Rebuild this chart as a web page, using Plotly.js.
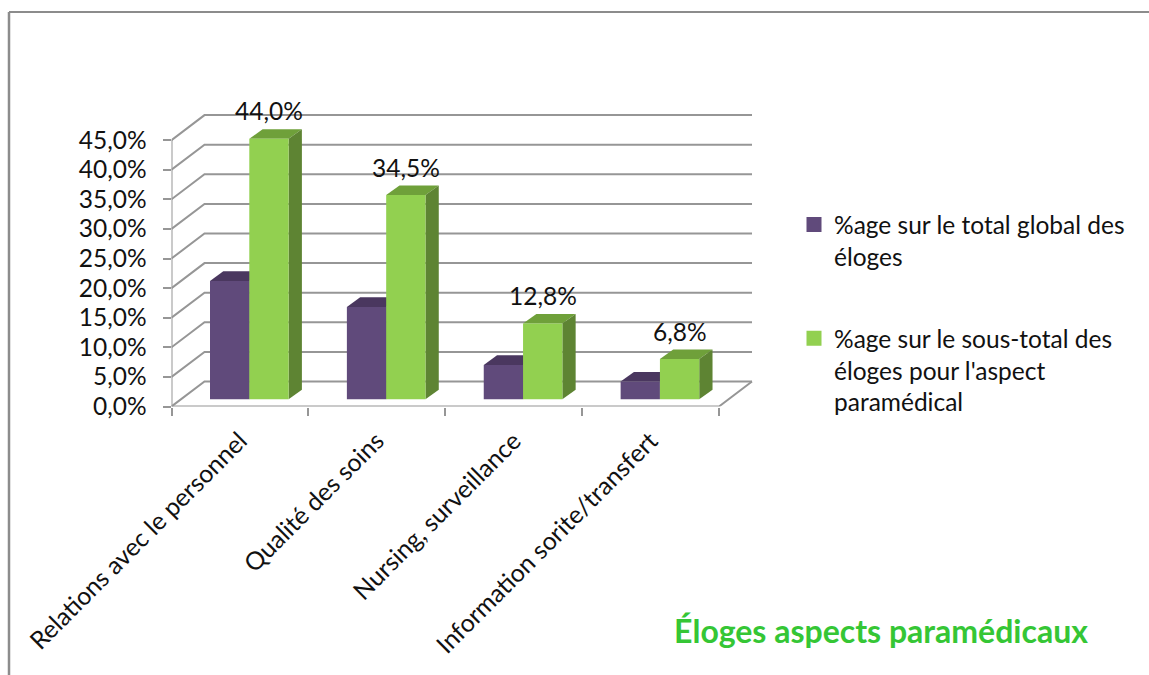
<!DOCTYPE html>
<html lang="fr">
<head>
<meta charset="utf-8">
<title>Éloges aspects paramédicaux</title>
<script src="https://cdn.plot.ly/plotly-3.0.1.min.js"></script>
<style>html,body{margin:0;padding:0;background:#fff}#chart{width:1149px;height:675px}</style>
</head>
<body>
<div id="chart"></div>
<script>
// Chart content
const categories = ['Relations avec le personnel', 'Qualité des soins', 'Nursing, surveillance', 'Information sorite/transfert'];
const shareOfTotal = [20.0, 15.6, 5.8, 3.0];
const shareOfSubtotal = [44.0, 34.5, 12.8, 6.8];
const seriesNames = ['%age sur le total global des<br>éloges', "%age sur le sous-total des<br>éloges pour l'aspect<br>paramédical"];
const yTicks = [0, 5, 10, 15, 20, 25, 30, 35, 40, 45];
const chartTitle = 'Éloges aspects paramédicaux';

// Page is 1149x675 with no margins, so plot domains are fractions of the page
const W = 1149, H = 675;
const FONT = 'Lato, Carlito, sans-serif';
const TEXT_SIZE = 24.5;
const pxPerCat = 136.875, pxPerPct = 5.92;
const plotLeft = 171.5, plotRight = 753, plotBottom = 406.5, plotTop = 100;

// Oblique projection of the chart's depth, in axis units
const wallDX = 33 / pxPerCat, wallDY = 25 / pxPerPct;
const barDX = 13.3 / pxPerCat, barDY = 9.6 / pxPerPct;
const barBase = 7.2 / pxPerPct;
const barWidth = 39.3 / pxPerCat;
const offsets = [38.5 / pxPerCat - 0.5, 77.8 / pxPerCat - 0.5];

const colors = {
  front: ['#604A7B', '#92D050'],
  top: ['#4A375F', '#6FA03A'],
  side: ['#4A375F', '#5E8433'],
  grid: '#969696',
  frame: '#8C8C8C',
  title: '#35C635',
  text: '#111111'
};

const pct = v => v.toFixed(1).replace('.', ',') + '%';
const xLeft = -0.5, xRight = categories.length - 0.5;
const poly = pts => 'M' + pts.map(p => p[0] + ',' + p[1]).join('L') + 'Z';
const line = (pts, color, width) => ({
  type: 'path', layer: 'below', xref: 'x', yref: 'y',
  path: 'M' + pts.map(p => p[0] + ',' + p[1]).join('L'),
  line: {color: color, width: width}
});
const face = (pts, color) => ({
  type: 'path', layer: 'below', xref: 'x', yref: 'y',
  path: poly(pts), fillcolor: color, line: {width: 0}
});

const shapes = [];

// Walls: each gridline runs from the front edge up to the back wall, then across
yTicks.forEach(t => {
  shapes.push(line([[xLeft, t], [xLeft + wallDX, t + wallDY], [xRight + wallDX, t + wallDY]], colors.grid, 2));
});
shapes.push(line([[xLeft, 0], [xLeft, yTicks[yTicks.length - 1]]], colors.grid, 2));
shapes.push(line([[xLeft, 0], [xRight, 0], [xRight + wallDX, wallDY]], colors.grid, 2));

// Top and side faces of each column; the front faces are the bar traces
[shareOfTotal, shareOfSubtotal].forEach((series, s) => {
  series.forEach((v, i) => {
    const x0 = i + offsets[s], x1 = x0 + barWidth, top = v + barBase;
    shapes.push(face([[x0, top], [x0 + barDX, top + barDY], [x1 + barDX, top + barDY], [x1, top]], colors.top[s]));
    shapes.push(face([[x1, barBase], [x1 + barDX, barBase + barDY], [x1 + barDX, top + barDY], [x1, top]], colors.side[s]));
  });
});

// Frame of the surrounding chart area, open towards the right and bottom
shapes.push({type: 'line', xref: 'paper', yref: 'paper', x0: 9 / W, x1: 1, y0: 1 - 12 / H, y1: 1 - 12 / H, line: {color: colors.frame, width: 2}});
shapes.push({type: 'line', xref: 'paper', yref: 'paper', x0: 9 / W, x1: 9 / W, y0: 0, y1: 1 - 12 / H, line: {color: colors.frame, width: 2.5}});

const barTrace = (values, s) => ({
  type: 'bar', x: categories, y: values, base: barBase,
  offset: offsets[s], width: barWidth,
  marker: {color: colors.front[s]},
  showlegend: false, hoverinfo: 'skip'
});

// Legend-only entries, stroked so the swatches come out a little larger
const legendTrace = s => ({
  type: 'bar', x: [null], y: [null], name: seriesNames[s],
  legendgroup: 'g' + s,
  marker: {color: colors.front[s], line: {color: colors.front[s], width: 3}}
});

// Value labels float above the green columns
const annotations = shareOfSubtotal.map((v, i) => ({
  xref: 'x', yref: 'y',
  x: i + offsets[1] + barWidth / 2,
  y: v + barBase + 28 / pxPerPct,
  text: pct(v), showarrow: false,
  xanchor: 'center', yanchor: 'middle',
  font: {family: FONT, size: TEXT_SIZE, color: colors.text}
}));

const layout = {
  width: W, height: H,
  margin: {l: 0, r: 0, t: 0, b: 0},
  paper_bgcolor: '#ffffff', plot_bgcolor: 'rgba(0,0,0,0)',
  barmode: 'overlay',
  font: {family: FONT, color: colors.text, size: TEXT_SIZE},
  title: {
    text: '<b>' + chartTitle + '</b>',
    x: 881 / W, xanchor: 'center', xref: 'paper',
    y: 1 - 632 / H, yanchor: 'middle', yref: 'container',
    font: {family: FONT, size: 32, color: colors.title}
  },
  xaxis: {
    type: 'category', categoryorder: 'array', categoryarray: categories,
    domain: [plotLeft / W, plotRight / W],
    range: [xLeft, xLeft + (plotRight - plotLeft) / pxPerCat],
    tickson: 'boundaries', ticks: 'outside', ticklen: 8, tickwidth: 2, tickcolor: colors.grid,
    tickangle: -45, ticklabelstandoff: 14,
    tickfont: {family: FONT, size: 24.8, color: colors.text},
    showgrid: false, showline: false, zeroline: false, fixedrange: true
  },
  yaxis: {
    domain: [1 - plotBottom / H, 1 - plotTop / H],
    range: [0, (plotBottom - plotTop) / pxPerPct],
    tickmode: 'array', tickvals: yTicks, ticktext: yTicks.map(pct),
    ticks: 'outside', ticklen: 8, tickwidth: 2, tickcolor: colors.grid,
    ticklabelstandoff: 11,
    tickfont: {family: FONT, size: TEXT_SIZE, color: colors.text},
    showgrid: false, showline: false, zeroline: false, fixedrange: true
  },
  legend: {
    x: 794 / W, xanchor: 'left', y: 1 - 202 / H, yanchor: 'top',
    bgcolor: 'rgba(0,0,0,0)', tracegroupgap: 47, valign: 'top',
    itemclick: false, itemdoubleclick: false,
    font: {family: FONT, size: TEXT_SIZE, color: colors.text}
  },
  annotations: annotations,
  shapes: shapes
};

Plotly.newPlot('chart', [
  barTrace(shareOfTotal, 0),
  barTrace(shareOfSubtotal, 1),
  legendTrace(0),
  legendTrace(1)
], layout, {displayModeBar: false, responsive: false});
</script>
</body>
</html>
